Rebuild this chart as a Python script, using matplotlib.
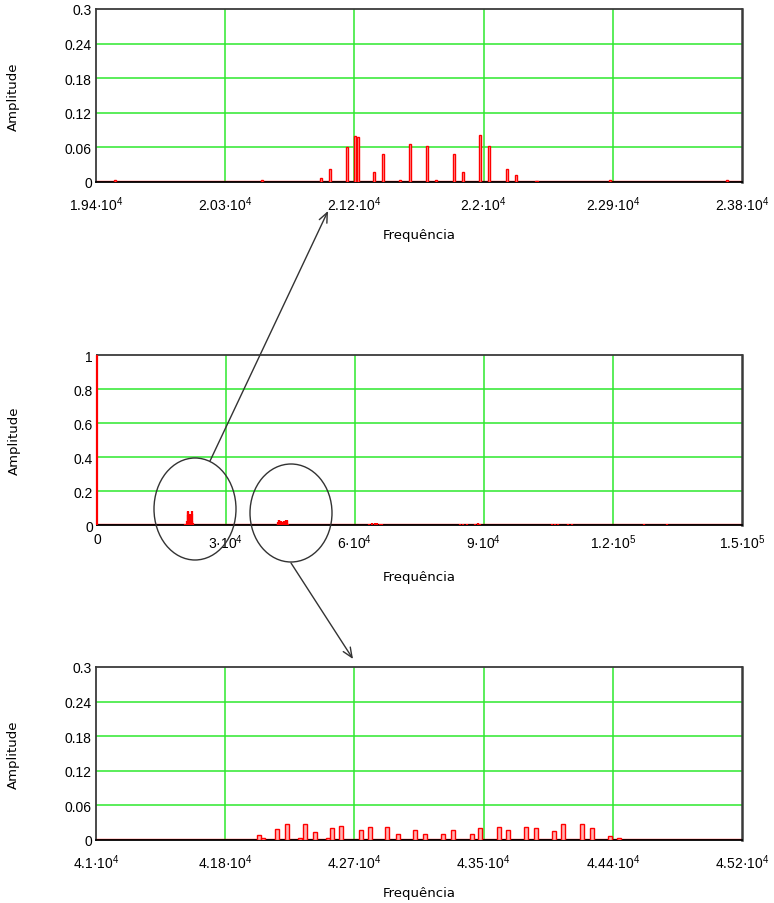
import matplotlib
matplotlib.use("Agg")
import matplotlib.pyplot as plt
from matplotlib.patches import Ellipse

plt.rcParams['font.family'] = ['Liberation Sans', 'DejaVu Sans']
plt.rcParams['mathtext.fontset'] = 'custom'
plt.rcParams['mathtext.rm'] = 'Liberation Sans'
plt.rcParams['mathtext.it'] = 'Liberation Sans'

# ---- spectrum peaks (frequency in Hz, amplitude) ----
# DC component
dc_freq = [0]
dc_amp = [1.0]

# cluster around 21 kHz
band1_freq = [19530, 20530, 20932, 20994, 21110, 21164, 21185, 21293, 21355,
              21470, 21539, 21654, 21716, 21838, 21900, 22015, 22077, 22199,
              22261, 22400, 22900, 23700]
band1_amp = [0.003, 0.004, 0.007, 0.022, 0.060, 0.080, 0.078, 0.017, 0.049,
             0.004, 0.066, 0.063, 0.003, 0.049, 0.017, 0.081, 0.063, 0.022,
             0.012, 0.002, 0.003, 0.003]

# cluster around 43 kHz
band2_freq = [42060, 42086, 42177, 42242, 42326, 42359, 42424, 42508, 42535,
              42593, 42723, 42782, 42892, 42964, 43074, 43139, 43256, 43321,
              43445, 43497, 43620, 43679, 43796, 43861, 43978, 44036, 44160,
              44225, 44342, 44401]
band2_amp = [0.008, 0.004, 0.0195, 0.028, 0.004, 0.028, 0.014, 0.004, 0.021,
             0.025, 0.018, 0.023, 0.023, 0.011, 0.018, 0.010, 0.011, 0.018,
             0.011, 0.021, 0.023, 0.018, 0.023, 0.021, 0.016, 0.028, 0.028,
             0.021, 0.007, 0.003]

# higher harmonic groups
band3_freq = [63300, 63900, 64600, 65200, 65900, 66300]
band3_amp = [0.008, 0.012, 0.010, 0.012, 0.009, 0.006]
band4_freq = [84400, 85200, 86000, 87800, 88500, 89000]
band4_amp = [0.006, 0.008, 0.006, 0.009, 0.010, 0.007]
band5_freq = [105800, 106500, 107300, 109600, 110400]
band5_amp = [0.007, 0.008, 0.006, 0.009, 0.006]
band6_freq = [127200, 128000, 132600]
band6_amp = [0.004, 0.003, 0.004]

freqs = band1_freq + band2_freq + band3_freq + band4_freq + band5_freq + band6_freq
amps = band1_amp + band2_amp + band3_amp + band4_amp + band5_amp + band6_amp

# ---- axes ticks ----
top_xticks = [19400, 20280, 21160, 22040, 22920, 23800]
top_xlabels = ['1.94', '2.03', '2.12', '2.2', '2.29', '2.38']
mid_xticks = [0, 30000, 60000, 90000, 120000, 150000]
mid_xlabels = ['0', '3·10$^{4}$', '6·10$^{4}$', '9·10$^{4}$', '1.2·10$^{5}$', '1.5·10$^{5}$']
bot_xticks = [41000, 41840, 42680, 43520, 44360, 45200]
bot_xlabels = ['4.1', '4.18', '4.27', '4.35', '4.44', '4.52']
zoom_yticks = [0, 0.06, 0.12, 0.18, 0.24, 0.3]
zoom_ylabels = ['0', '0.06', '0.12', '0.18', '0.24', '0.3']
mid_yticks = [0, 0.2, 0.4, 0.6, 0.8, 1.0]
mid_ylabels = ['0', '0.2', '0.4', '0.6', '0.8', '1']

GRID = '#2ee82e'
FS = 10
LABEL_FONT = dict(family='DejaVu Sans', fontsize=9.5)

fig = plt.figure(figsize=(7.74, 9.04), dpi=100)
fig.patch.set_facecolor('white')


def style_axes(ax, xticks, xlabels, yticks, ylabels):
    ax.set_xlim(xticks[0], xticks[-1])
    ax.set_ylim(yticks[0], yticks[-1])
    ax.set_xticks(xticks)
    ax.set_xticklabels(xlabels, fontsize=FS)
    ax.set_yticks(yticks)
    ax.set_yticklabels(ylabels, fontsize=FS)
    ax.tick_params(axis='x', length=0, pad=9)
    ax.tick_params(axis='y', length=0, pad=3)
    for x in xticks[1:-1]:
        ax.axvline(x, color=GRID, lw=1.1, zorder=1)
    for y in yticks[1:-1]:
        ax.axhline(y, color=GRID, lw=1.1, zorder=1)
    for s in ax.spines.values():
        s.set_color('#3a3a3a')
        s.set_linewidth(1.3)
    ax.spines['bottom'].set_color('black')
    ax.spines['right'].set_linewidth(1.8)
    ax.set_ylabel('Amplitude', **LABEL_FONT)
    ax.set_xlabel('Frequência', **LABEL_FONT)
    ax.yaxis.set_label_coords(-0.118, 0.5)
    ax.xaxis.set_label_coords(0.5, -0.265)
    ax.axhline(0, color='red', lw=2.4, zorder=2)


def zoom_panel(ax, lo, hi, width):
    sel = [(f, a) for f, a in zip(freqs, amps) if lo <= f <= hi]
    ax.bar([f for f, _ in sel], [a for _, a in sel], width=width,
           facecolor='#ffb4b4', edgecolor='red', linewidth=1.0, zorder=3)


# upper zoom: 19.4 kHz - 23.8 kHz
ax1 = fig.add_axes([0.124, 0.7976, 0.8346, 0.1914])
style_axes(ax1, top_xticks, [l + '·10$^{4}$' for l in top_xlabels], zoom_yticks, zoom_ylabels)
zoom_panel(ax1, top_xticks[0], top_xticks[-1], 16)

# full spectrum
ax2 = fig.add_axes([0.1253, 0.4181, 0.8333, 0.188])
style_axes(ax2, mid_xticks, mid_xlabels, mid_yticks, mid_ylabels)
ax2.tick_params(axis='x', pad=5)
ax2.vlines(freqs, 0, amps, color='red', lw=1.6, zorder=3)
ax2.vlines(dc_freq, 0, dc_amp, color='red', lw=1.6, zorder=4, clip_on=False)

# lower zoom: 41 kHz - 45.2 kHz
ax3 = fig.add_axes([0.124, 0.0697, 0.8346, 0.1914])
style_axes(ax3, bot_xticks, [l + '·10$^{4}$' for l in bot_xlabels], zoom_yticks, zoom_ylabels)
zoom_panel(ax3, bot_xticks[0], bot_xticks[-1], 22)

# overlay with the circled regions and arrows (figure pixel coordinates)
ov = fig.add_axes([0, 0, 1, 1], zorder=10)
ov.set_xlim(0, 774)
ov.set_ylim(904, 0)
ov.axis('off')
ov.patch.set_visible(False)
ov.add_patch(Ellipse((195, 510), 82, 102, fill=False, ec='#333333', lw=1.0))
ov.add_patch(Ellipse((291, 514), 82, 98, fill=False, ec='#333333', lw=1.0))
ov.annotate('', xy=(328, 212), xytext=(210, 462),
            arrowprops=dict(arrowstyle='->,head_length=0.7,head_width=0.3',
                            color='#333333', lw=1.0, shrinkA=0, shrinkB=0))
ov.annotate('', xy=(353, 660), xytext=(291, 564),
            arrowprops=dict(arrowstyle='->,head_length=0.7,head_width=0.3',
                            color='#333333', lw=1.0, shrinkA=0, shrinkB=0))

fig.savefig('out.png', dpi=100, facecolor='white')
